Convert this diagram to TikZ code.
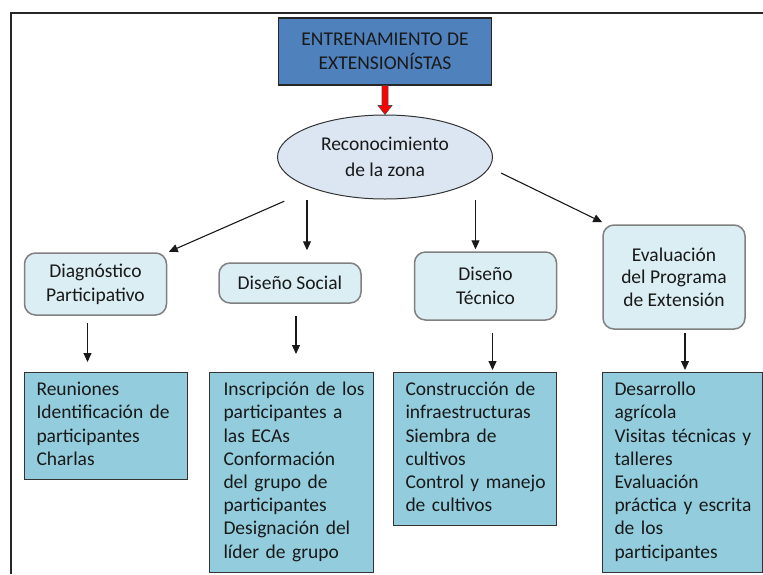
\documentclass[tikz,border=0pt]{standalone}
\usepackage{fontspec}
\setmainfont{Carlito}
\usetikzlibrary{shapes.geometric,arrows.meta}

\definecolor{titleblue}{HTML}{4F81BD}
\definecolor{zonefill}{HTML}{DCE6F2}
\definecolor{stagefill}{HTML}{DAEEF3}
\definecolor{taskfill}{HTML}{93CDDD}

\newcommand{\boxfont}{\fontsize{19.5}{23.2}\selectfont}
\newcommand{\lineas}[1]{\begin{tabular}{@{}l@{}}#1\end{tabular}}

\tikzset{
  titlebox/.style={draw=black!85, fill=titleblue, line width=1.3pt, minimum width=213pt,
    minimum height=67pt, inner sep=0pt, align=center, text=black!90,
    font=\fontsize{19.5}{24}\selectfont},
  zonaoval/.style={ellipse, draw=black!80, fill=zonefill, line width=1pt, minimum width=215pt,
    minimum height=84pt, inner sep=0pt, align=center, text=black!90,
    font=\fontsize{19.5}{26}\selectfont},
  stagebox/.style={draw=black!50, fill=stagefill, line width=1.5pt, rounded corners=11pt,
    minimum width=142pt, inner sep=0pt, align=center, text=black!90,
    font=\fontsize{19.5}{24}\selectfont},
  taskbox/.style={draw=black!80, fill=taskfill, line width=1pt, anchor=north west,
    inner xsep=12pt, inner ysep=7pt, text width=#1, align=left, text=black!90,
    font=\boxfont},
  arr/.style={line width=1.1pt, black!90, -{Triangle[length=9pt,width=8pt]}}
}

\begin{document}
\begin{tikzpicture}[x=1pt, y=-1pt]
  \useasboundingbox (0,0) rectangle (763,574);
  % frame
  \draw[line width=2pt, black!85] (11,574) -- (11,13) -- (763,13);

  % top of the chart
  \node[titlebox] (titulo) at (385,51.5) {ENTRENAMIENTO DE\\EXTENSIONÍSTAS};
  \node[zonaoval] (zona) at (385,157) {Reconocimiento\\de la zona};
  \filldraw[fill=red, draw=black!70, line width=0.6pt]
    ([xshift=-3pt]titulo.south) -- ([xshift=-3pt,yshift=9pt]zona.north)
    -- ([xshift=-7pt,yshift=9pt]zona.north) -- (zona.north)
    -- ([xshift=7pt,yshift=9pt]zona.north) -- ([xshift=3pt,yshift=9pt]zona.north)
    -- ([xshift=3pt]titulo.south) -- cycle;

  % stages
  \node[stagebox, minimum height=62pt] (diag) at (95.5,284) {Diagnóstico\\Participativo};
  \node[stagebox, minimum height=40pt] (social) at (290,283) {Diseño Social};
  \node[stagebox, minimum height=68pt] (tecnico) at (485.5,286) {Diseño\\Técnico};
  \node[stagebox, minimum height=104pt, font=\fontsize{19.5}{22.5}\selectfont] (evalua) at (674,277)
    {Evaluación\\del Programa\\de Extensión};

  % activities
  \node[taskbox=139pt] (reun) at (24,372)
    {\lineas{Reuniones\\Identificación de\\participantes\\Charlas}};
  \node[taskbox=136pt, inner xsep=14pt] (inscr) at (209,372)
    {\lineas{Inscripción de los\\participantes a\\las ECAs\\Conformación\\del grupo de\\participantes\\Designación del\\líder de grupo}};
  \node[taskbox=139pt] (constr) at (393,372)
    {\lineas{Construcción de\\infraestructuras\\Siembra de\\cultivos\\Control y manejo\\de cultivos}};
  \node[taskbox=136pt] (desarr) at (602,372)
    {\lineas{Desarrollo\\agrícola\\Visitas técnicas y\\talleres\\Evaluación\\práctica y escrita\\de los\\participantes}};

  % arrows
  \draw[arr, shorten <=110pt, shorten >=80pt] (zona.center) -- (diag.center);
  \draw[arr] ([xshift=17pt]social.north |- zona.south) -- ([xshift=17pt,yshift=12pt]social.north);
  \draw[arr] ([xshift=-10pt]tecnico.north |- zona.south) -- ([xshift=-10pt,yshift=2pt]tecnico.north);
  \draw[arr] ([xshift=8pt,yshift=-16pt]zona.east) -- ([yshift=2pt]evalua.north west);

  \draw[arr] ([xshift=-8pt,yshift=-7pt]diag.south) -- ([xshift=-8pt,yshift=10pt]diag.south |- reun.north);
  \draw[arr] ([xshift=6pt,yshift=-12pt]social.south) -- ([xshift=6pt,yshift=18pt]social.south |- inscr.north);
  \draw[arr] ([xshift=7pt,yshift=-12pt]tecnico.south) -- ([xshift=7pt,yshift=2pt]tecnico.south |- constr.north);
  \draw[arr] ([xshift=11pt,yshift=-3pt]evalua.south) -- ([xshift=11pt,yshift=2pt]evalua.south |- desarr.north);
\end{tikzpicture}
\end{document}
